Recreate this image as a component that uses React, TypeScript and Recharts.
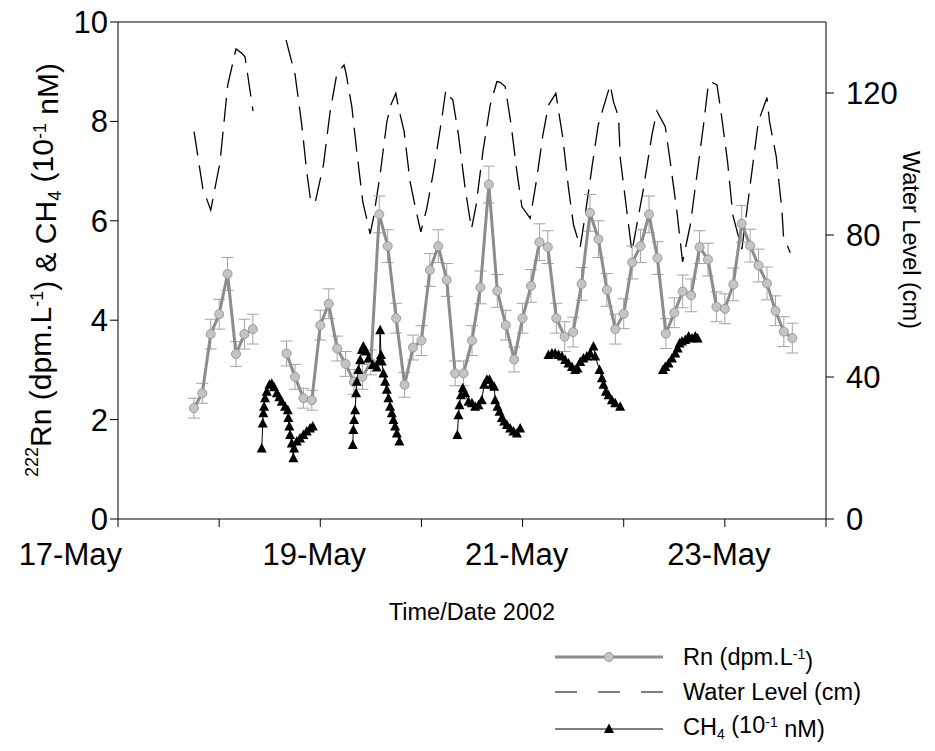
import React from "react";
import { LineChart, Line, XAxis, YAxis, ErrorBar, ReferenceLine } from "recharts";

// Rn samples every 2 h starting 17-May 18:00 (null = no sample)
const rnStart = 17.75;
const rnStepDays = 2 / 24;
const rnValues = [
  2.23, 2.53, 3.72, 4.12, 4.93, 3.32, 3.72, 3.82,
  null, null, null,
  3.33, 2.86, 2.43, 2.39, 3.9, 4.33, 3.43, 3.12, 2.76, 2.86, 3.15,
  6.13, 5.49, 4.04, 2.7, 3.45, 3.59, 5.01, 5.49, 4.81, 2.93, 2.93,
  3.59, 4.66, 6.73, 4.59, 3.9, 3.21, 4.04, 4.69, 5.57, 5.47, 4.04,
  3.67, 3.76, 4.73, 6.16, 5.63, 4.61, 3.82, 4.13, 5.16, 5.49, 6.13,
  5.25, 3.73, 4.15, 4.58, 4.5, 5.47, 5.22, 4.27, 4.23, 4.72, 5.94,
  5.5, 5.1, 4.74, 4.19, 3.77, 3.64,
];
const rnErrors = [
  0.2, 0.2, 0.3, 0.3, 0.33, 0.25, 0.3, 0.3,
  null, null, null,
  0.25, 0.25, 0.2, 0.2, 0.3, 0.3, 0.25, 0.25, 0.25, 0.25, 0.25,
  0.37, 0.33, 0.3, 0.25, 0.25, 0.3, 0.33, 0.33, 0.33, 0.25, 0.25,
  0.3, 0.33, 0.37, 0.33, 0.3, 0.25, 0.3, 0.33, 0.37, 0.33, 0.3,
  0.3, 0.3, 0.33, 0.37, 0.37, 0.33, 0.3, 0.3, 0.33, 0.33, 0.37,
  0.33, 0.3, 0.3, 0.33, 0.33, 0.33, 0.33, 0.3, 0.3, 0.33, 0.37,
  0.33, 0.33, 0.33, 0.3, 0.3, 0.3,
];

// Water level (cm), time in days of May 2002
const waterTimes = [
  [17.752, 17.838, 17.917, 18.009, 18.085, 18.167, 18.224, 18.256, 18.335],
  [
    18.662, 18.751, 18.817, 18.866, 18.906, 18.949, 19.031, 19.097, 19.163, 19.235,
    19.255, 19.312, 19.361, 19.42, 19.493, 19.525, 19.591, 19.658, 19.697, 19.747,
    19.772, 19.829, 19.888, 19.938, 19.994, 20.053, 20.119, 20.202, 20.241, 20.267,
    20.311, 20.366, 20.432, 20.495, 20.541, 20.61, 20.68, 20.746, 20.778, 20.828,
    20.887, 20.944, 20.993, 21.075, 21.141, 21.201, 21.256, 21.329, 21.399, 21.454,
    21.504, 21.57, 21.619, 21.689, 21.748, 21.866, 21.899, 21.949, 21.966, 22.015,
    22.081, 22.19, 22.279, 22.328, 22.411, 22.46, 22.526, 22.582, 22.658, 22.724,
    22.789, 22.839, 22.873, 22.922, 22.962, 23.027, 23.079, 23.168, 23.331, 23.416,
    23.442, 23.508, 23.564, 23.58, 23.647,
  ],
];
const waterLevels = [
  [109.1, 93.2, 87.0, 100.6, 122.3, 132.4, 131.2, 130.2, 114.9],
  [
    134.9, 125.1, 111.0, 97.8, 89.4, 89.1, 99.7, 114.7, 125.3, 127.9,
    125.5, 116.1, 103.5, 89.4, 80.3, 84.7, 96.9, 111.9, 116.6, 119.9,
    116.1, 109.1, 95.0, 88.0, 80.9, 87.5, 97.8, 112.9, 120.8, 119.4,
    118.0, 108.2, 93.2, 81.7, 88.5, 103.9, 116.6, 123.2, 123.0, 121.8,
    111.0, 97.8, 88.0, 84.7, 96.0, 108.2, 116.6, 119.9, 107.2, 93.2,
    82.8, 76.6, 85.6, 99.7, 111.0, 122.3, 117.5, 113.3, 101.6, 90.3,
    75.3, 92.2, 108.2, 114.9, 110.5, 100.6, 86.6, 72.4, 82.8, 96.9,
    111.0, 123.0, 123.0, 122.3, 114.7, 100.6, 85.6, 76.0, 111.9, 118.7,
    111.9, 102.1, 87.0, 79.5, 75.0,
  ],
];

// CH4 (10^-1 nM) bursts
const ch4Times = [
  [18.421, 18.431, 18.437, 18.444, 18.454, 18.471, 18.497, 18.52, 18.543, 18.57, 18.595, 18.619, 18.652, 18.679, 18.684, 18.694, 18.701, 18.718, 18.734, 18.741, 18.768, 18.8, 18.833, 18.866, 18.899, 18.926],
  [19.321, 19.327, 19.334, 19.344, 19.354, 19.361, 19.377, 19.394, 19.411, 19.426, 19.453, 19.476, 19.519, 19.559, 19.585, 19.592, 19.6, 19.608, 19.624, 19.641, 19.658, 19.674, 19.69, 19.707, 19.723, 19.74, 19.757, 19.782],
  [20.355, 20.366, 20.376, 20.39, 20.409, 20.432, 20.465, 20.499, 20.531, 20.564, 20.597, 20.62, 20.647, 20.673, 20.696, 20.719, 20.729, 20.752, 20.772, 20.795, 20.818, 20.845, 20.877, 20.91, 20.944, 20.976],
  [21.256, 21.29, 21.322, 21.355, 21.389, 21.421, 21.454, 21.488, 21.52, 21.543, 21.57, 21.602, 21.636, 21.669, 21.701, 21.718, 21.761, 21.784, 21.8, 21.824, 21.85, 21.883, 21.916, 21.965],
  [22.388, 22.411, 22.443, 22.477, 22.51, 22.533, 22.552, 22.576, 22.609, 22.642, 22.676, 22.708, 22.731],
];
const ch4Values = [
  [1.42, 1.92, 2.13, 2.26, 2.43, 2.56, 2.7, 2.72, 2.65, 2.53, 2.45, 2.36, 2.26, 2.19, 2.03, 1.86, 1.69, 1.52, 1.22, 1.42, 1.56, 1.62, 1.69, 1.76, 1.82, 1.86],
  [1.49, 1.79, 1.99, 2.19, 2.53, 2.76, 3.0, 3.2, 3.4, 3.47, 3.37, 3.23, 3.1, 3.05, 3.2, 3.8, 3.3, 3.17, 2.93, 2.76, 2.6, 2.43, 2.26, 2.13, 1.99, 1.86, 1.72, 1.56],
  [1.69, 2.09, 2.29, 2.49, 2.63, 2.53, 2.36, 2.33, 2.26, 2.29, 2.39, 2.7, 2.8, 2.8, 2.7, 2.66, 2.39, 2.26, 2.16, 2.03, 1.96, 1.89, 1.82, 1.76, 1.72, 1.82],
  [3.3, 3.33, 3.33, 3.3, 3.27, 3.2, 3.13, 3.06, 3.0, 3.03, 3.16, 3.23, 3.27, 3.33, 3.47, 3.27, 3.0, 2.83, 2.7, 2.56, 2.49, 2.39, 2.33, 2.26],
  [3.0, 3.06, 3.13, 3.23, 3.33, 3.43, 3.53, 3.57, 3.6, 3.67, 3.63, 3.67, 3.63],
];

const xTicks = [17, 18, 19, 20, 21, 22, 23, 24];
const leftTicks = [0, 2, 4, 6, 8, 10];
const rightTicks = [0, 40, 80, 120];

const FONT = "'Liberation Sans', Arial, sans-serif";
const TICK_FONT = 31;

// split Rn into continuous runs
const rnSegments: { t: number; v: number; e: number }[][] = [];
let run: { t: number; v: number; e: number }[] = [];
rnValues.forEach((v, i) => {
  if (v === null) {
    if (run.length) rnSegments.push(run);
    run = [];
  } else {
    run.push({ t: rnStart + i * rnStepDays, v, e: rnErrors[i] as number });
  }
});
if (run.length) rnSegments.push(run);

const waterSegments = waterTimes.map((ts, s) => ts.map((t, i) => ({ t, w: waterLevels[s][i] })));
const ch4Segments = ch4Times.map((ts, s) => ts.map((t, i) => ({ t, c: ch4Values[s][i] })));

function triangle(props: any) {
  const { cx, cy, index } = props;
  if (cx == null || cy == null) return <g key={`tri-${index}`} />;
  return (
    <path
      key={`tri-${index}`}
      d={`M${cx},${cy - 5.5} L${cx + 5},${cy + 4} L${cx - 5},${cy + 4} Z`}
      fill="#000"
    />
  );
}

const xLabel = (d: number) => (d % 2 === 1 ? `${d}-May` : "");

function DateTick(props: any) {
  const { x, y, payload } = props;
  const label = xLabel(payload.value);
  if (!label) return <g />;
  const first = payload.value === xTicks[0];
  return (
    <text
      x={first ? x + 4 : x - 6}
      y={y}
      dy="0.71em"
      textAnchor={first ? "end" : "middle"}
      fontSize={TICK_FONT}
      fontFamily={FONT}
      fill="#000"
    >
      {label}
    </text>
  );
}

// text with super/subscripts: parts of [text, shift] where shift = 1 sup, -1 sub, 0 normal
function Rich({ parts, small }: { parts: [string, number][]; small: number }) {
  let prev = 0;
  return (
    <>
      {parts.map(([s, shift], i) => {
        const off = shift === 1 ? -0.42 : shift === -1 ? 0.25 : 0;
        const prevOff = prev === 1 ? -0.42 : prev === -1 ? 0.25 : 0;
        prev = shift;
        return (
          <tspan key={i} dy={`${((off - prevOff) * (shift ? 1 : 1)).toFixed(2)}em`} fontSize={shift ? small : undefined}>
            {s}
          </tspan>
        );
      })}
    </>
  );
}

function Overlay() {
  return (
    <svg width={935} height={751} style={{ position: "absolute", left: 0, top: 0, pointerEvents: "none" }}>
      <g fontFamily={FONT} fill="#000">
        <text transform="translate(46,270) rotate(-90)" textAnchor="middle" fontSize={30}>
          <Rich
            small={18}
            parts={[
              ["222", 1],
              ["Rn (dpm.L", 0],
              ["-1", 1],
              [") & CH", 0],
              ["4", -1],
              [" (10", 0],
              ["-1", 1],
              [" nM)", 0],
            ]}
          />
        </text>
        <text transform="translate(903,240) rotate(90)" textAnchor="middle" fontSize={23.5}>
          Water Level (cm)
        </text>
        <text x={472} y={620} textAnchor="middle" fontSize={23.5}>
          Time/Date 2002
        </text>

        {/* legend */}
        <line x1={555} x2={663} y1={657} y2={657} stroke="#8c8c8c" strokeWidth={3} />
        <circle cx={609} cy={657} r={4.5} fill="#c4c4c4" stroke="#9a9a9a" />
        <text x={683} y={665} fontSize={23.5}>
          <Rich small={14} parts={[["Rn (dpm.L", 0], ["-1", 1], [")", 0]]} />
        </text>
        <line x1={555} x2={663} y1={692} y2={692} stroke="#000" strokeWidth={1.2} strokeDasharray="22 21" />
        <text x={683} y={700} fontSize={23.5}>
          Water Level (cm)
        </text>
        <line x1={555} x2={663} y1={729} y2={729} stroke="#000" strokeWidth={1} />
        <path d="M609,723.5 L614,733 L604,733 Z" fill="#000" />
        <text x={683} y={735} fontSize={23.5}>
          <Rich small={14} parts={[["CH", 0], ["4", -1], [" (10", 0], ["-1", 1], [" nM)", 0]]} />
        </text>
      </g>
    </svg>
  );
}

export default function App() {
  const tickStyle = { fontSize: TICK_FONT, fill: "#000", fontFamily: FONT };
  return (
    <div style={{ position: "absolute", left: 0, top: 0, width: 935, height: 751, background: "#fff" }}>
      <LineChart width={935} height={751} margin={{ top: 22, right: 0, bottom: 172, left: 0 }}>
        <XAxis
          type="number"
          dataKey="t"
          domain={[17, 24]}
          ticks={xTicks}
          allowDataOverflow
          height={60}
          tickSize={8}
          tickMargin={16}
          stroke="#000"
          tick={<DateTick />}
          interval={0}
        />
        <YAxis
          yAxisId="left"
          domain={[0, 10]}
          ticks={leftTicks}
          width={118}
          tickSize={8}
          tickMargin={2}
          stroke="#000"
          tick={tickStyle}
          interval={0}
        />
        <YAxis
          yAxisId="right"
          orientation="right"
          domain={[0, 140]}
          ticks={rightTicks}
          width={109}
          tickSize={8}
          tickMargin={12}
          stroke="#000"
          tick={tickStyle}
          interval={0}
        />
        <ReferenceLine yAxisId="left" y={10} stroke="#000" strokeWidth={1} />

        {waterSegments.map((seg, i) => (
          <Line
            key={`w${i}`}
            yAxisId="right"
            data={seg}
            dataKey="w"
            stroke="#000"
            strokeWidth={1.3}
            strokeDasharray="24 10"
            dot={false}
            activeDot={false}
            isAnimationActive={false}
          />
        ))}

        {rnSegments.map((seg, i) => (
          <Line
            key={`rn${i}`}
            yAxisId="left"
            data={seg}
            dataKey="v"
            stroke="#8c8c8c"
            strokeWidth={3}
            dot={{ r: 4.5, fill: "#c4c4c4", stroke: "#9a9a9a", strokeWidth: 1 }}
            activeDot={false}
            isAnimationActive={false}
          >
            <ErrorBar dataKey="e" width={6} stroke="#a3a3a3" strokeWidth={1} direction="y" />
          </Line>
        ))}

        {ch4Segments.map((seg, i) => (
          <Line
            key={`c${i}`}
            yAxisId="left"
            data={seg}
            dataKey="c"
            stroke="#000"
            strokeWidth={1}
            dot={triangle}
            activeDot={false}
            isAnimationActive={false}
          />
        ))}
      </LineChart>
      <Overlay />
    </div>
  );
}
